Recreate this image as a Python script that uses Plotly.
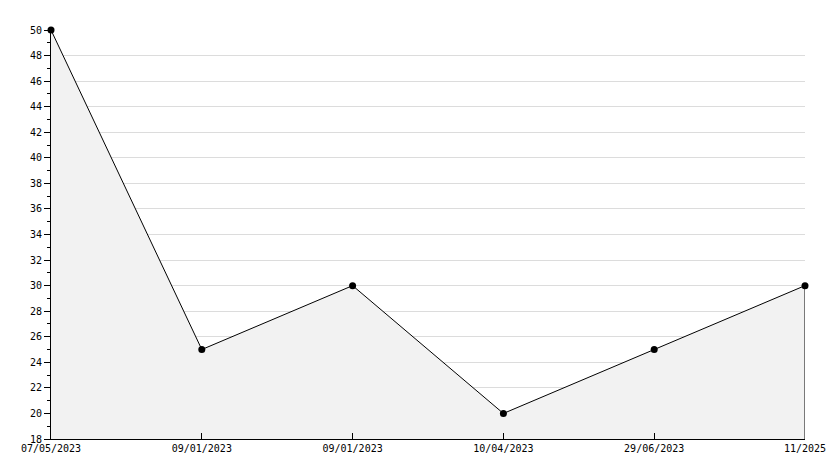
import plotly.graph_objects as go

labels = ["07/05/2023", "09/01/2023", "09/01/2023", "10/04/2023", "29/06/2023", "11/2025"]
values = [50, 25, 30, 20, 25, 30]
y_min = 18
y_max = 50

xs = list(range(len(labels)))

fig = go.Figure()
# baseline for fill
fig.add_trace(go.Scatter(x=xs, y=[y_min] * len(xs), mode="lines",
                         line=dict(width=0), hoverinfo="skip", showlegend=False))
fig.add_trace(go.Scatter(x=xs, y=values, mode="lines+markers", fill="tonexty",
                         fillcolor="#f2f2f2", line=dict(color="black", width=1),
                         marker=dict(color="black", size=7), cliponaxis=False,
                         showlegend=False))
# right edge of the area outline
fig.add_trace(go.Scatter(x=[xs[-1], xs[-1]], y=[y_min, values[-1]], mode="lines",
                         line=dict(color="black", width=1), hoverinfo="skip", showlegend=False))

fig.update_layout(
    width=826, height=460,
    margin=dict(l=43, r=29, t=22, b=29),
    paper_bgcolor="white", plot_bgcolor="white",
    font=dict(family="DejaVu Sans Mono", size=10, color="black"),
    xaxis=dict(range=[0, len(xs) - 1], tickmode="array", tickvals=xs, ticktext=labels,
               showgrid=False, zeroline=False, showline=True, linecolor="black", linewidth=1,
               ticks="inside", ticklen=6, tickcolor="black", ticklabelstandoff=0,
               automargin=False),
    yaxis=dict(range=[y_min, y_max], dtick=2, tick0=y_min, showgrid=True, gridcolor="#dcdcdc",
               gridwidth=1, zeroline=False, showline=True, linecolor="black", linewidth=1,
               ticks="outside", ticklen=6, tickcolor="black", automargin=False,
               minor=dict(dtick=1, ticks="outside", ticklen=3, tickcolor="black", showgrid=False)),
)

fig.write_html("out.html")
